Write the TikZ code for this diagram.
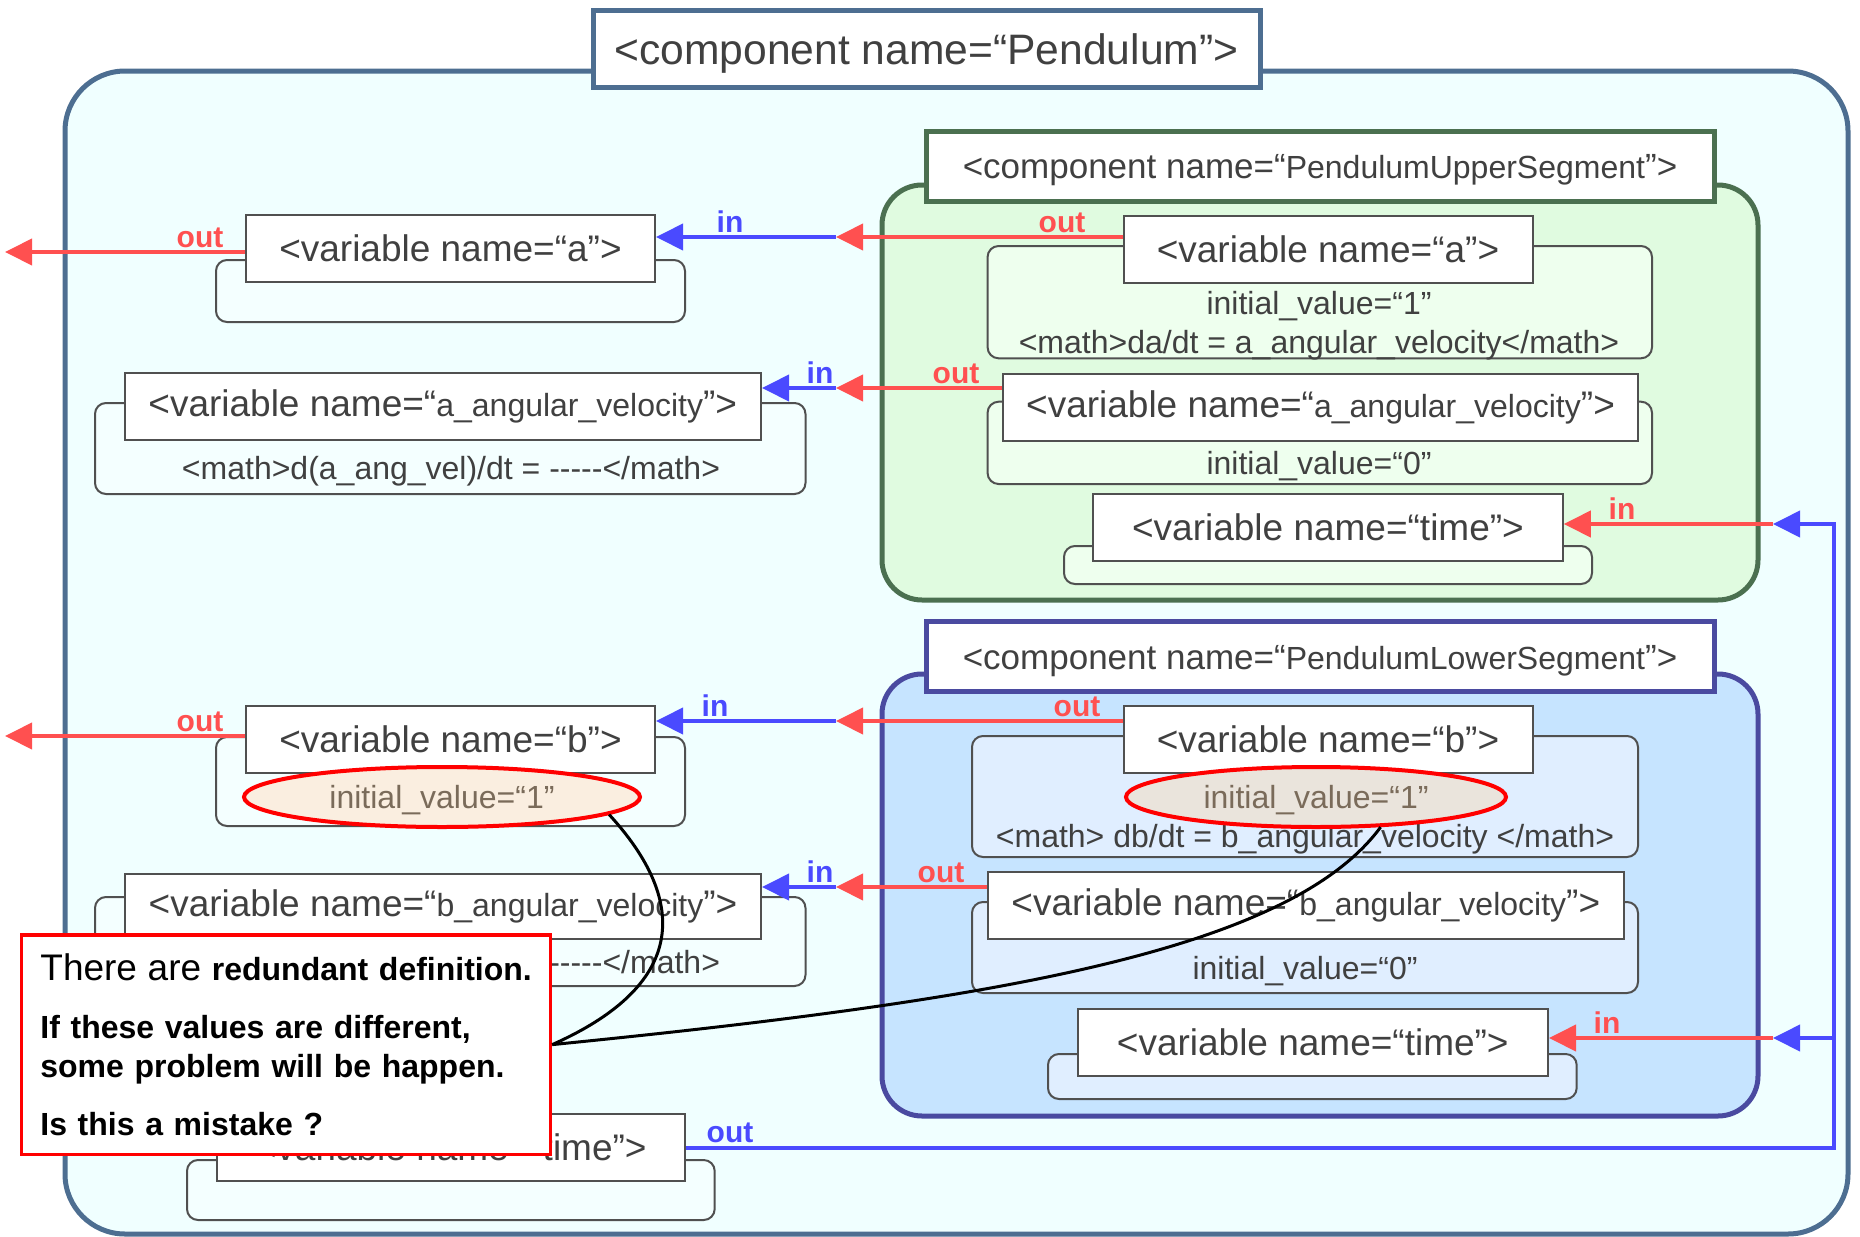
\documentclass[tikz,border=0pt]{standalone}
\usepackage{fontspec}
\setmainfont{Liberation Sans}
\usepackage{tikz}
\usetikzlibrary{arrows.meta}
\usetikzlibrary{positioning}
\usetikzlibrary{shapes.geometric}

\definecolor{outerline}{RGB}{77,110,145}
\definecolor{outerfill}{RGB}{240,255,255}
\definecolor{upperline}{RGB}{75,112,80}
\definecolor{upperfill}{RGB}{224,251,224}
\definecolor{upperback}{RGB}{238,255,238}
\definecolor{lowerline}{RGB}{74,74,160}
\definecolor{lowerfill}{RGB}{198,228,255}
\definecolor{lowerback}{RGB}{224,238,255}
\definecolor{leftback}{RGB}{244,255,255}
\definecolor{boxline}{RGB}{80,80,80}
\definecolor{boxtext}{RGB}{64,64,64}
\definecolor{outred}{RGB}{255,80,80}
\definecolor{inblue}{RGB}{74,74,255}
\definecolor{valtext}{RGB}{122,107,90}
\definecolor{dupleft}{RGB}{250,238,224}
\definecolor{dupright}{RGB}{234,228,220}

\newcommand{\vname}[1]{{\fontsize{16}{19}\selectfont #1}}
\newcommand{\dashrun}{-\kern0pt-\kern0pt-\kern0pt-\kern0pt-}

\begin{document}
\begin{tikzpicture}[x=0.5pt, y=-0.5pt,
    var/.style={draw=boxline, line width=1pt, fill=white, text=boxtext, font=\fontsize{18.5}{22}\selectfont, minimum height=33.5pt, inner sep=0pt},
    back/.style={draw=boxline, line width=1pt, rounded corners=5.5pt},
    comp/.style={line width=2.5pt, rounded corners=20pt},
    ctitle/.style={line width=2.5pt, fill=white, text=boxtext, font=\fontsize{17.5}{21}\selectfont, inner sep=0pt, minimum width=394pt, minimum height=35pt, text height=12.6pt, text depth=0pt},
    subtext/.style={text=boxtext, font=\fontsize{16}{19}\selectfont, inner sep=0pt},
    dup/.style={ellipse, draw=red, line width=2pt, text=valtext, font=\fontsize{16}{19}\selectfont, inner sep=0pt, minimum height=30pt, text depth=0pt},
    redarrow/.style={draw=outred, line width=2pt, -{Triangle[length=13.5pt, width=13pt]}},
    bluearrow/.style={draw=inblue, line width=2pt, -{Triangle[length=13.5pt, width=13pt]}},
    redlabel/.style={text=outred, font=\fontsize{15}{18}\selectfont\bfseries, inner sep=0pt, anchor=base},
    bluelabel/.style={text=inblue, font=\fontsize{15}{18}\selectfont\bfseries, inner sep=0pt, anchor=base},
    remark/.style={draw=black, line width=1.5pt}
]
\useasboundingbox (0,0) rectangle (1860,1237);

\draw[line width=2.5pt, draw=outerline, fill=outerfill, rounded corners=30pt] (65,71) rectangle (1848,1234);
\draw[comp, draw=upperline, fill=upperfill] (882,185) rectangle (1758,600);
\draw[comp, draw=lowerline, fill=lowerfill] (882,674) rectangle (1758,1116);

\draw
    (926.5,48.5) node [ctitle, draw=outerline, minimum width=333.5pt, minimum height=38.5pt, font=\fontsize{21.3}{25}\selectfont, text height=16pt, name=pendulum] {<component name=“Pendulum”>}
    (1320,166) node [ctitle, draw=upperline, name=upper] {<component name=“\vname{PendulumUpperSegment}”>}
    (1320,656.5) node [ctitle, draw=lowerline, name=lower] {<component name=“\vname{PendulumLowerSegment}”>}
;

%% Boxes
\draw[back, fill=leftback] (216,260) rectangle (685,322);
\draw[back, fill=leftback] (95,403) rectangle (805.5,494);
\draw[back, fill=leftback] (216,737) rectangle (685,826);
\draw[back, fill=leftback] (95,897) rectangle (805.5,986);
\draw[back, fill=leftback] (187,1160) rectangle (714.7,1220);
\draw[back, fill=upperback] (987.6,246) rectangle (1652,358.3);
\draw[back, fill=upperback] (987.6,401.7) rectangle (1652,484);
\draw[back, fill=upperback] (1064,546) rectangle (1592,584);
\draw[back, fill=lowerback] (972,736) rectangle (1638,857);
\draw[back, fill=lowerback] (972,902) rectangle (1638,993);
\draw[back, fill=lowerback] (1048,1054) rectangle (1576.7,1099);

\draw
    (450.5,248.5) node [var, minimum width=204.5pt, name=vaL] {<variable name=“a”>}
    (442.75,406.5) node [var, minimum width=318.25pt, name=vavL] {<variable name=“\vname{a\_angular\_velocity}”>}
    (451,471) node [subtext, name=mathavL] {<math>d(a\_ang\_vel)/dt = \dashrun</math>}
    (450.5,739.5) node [var, minimum width=204.5pt, name=vbL] {<variable name=“b”>}
    (443,906) node [var, minimum width=318pt, minimum height=32.5pt, name=vbvL] {<variable name=“\vname{b\_angular\_velocity}”>}
    (451,965) node [subtext, name=mathbvL] {<math>d(b\_ang\_vel)/dt = \dashrun</math>}
    (450.75,1147.5) node [var, minimum width=234.25pt, name=vtL] {<variable name=“time”>}

    (1328,249) node [var, minimum width=204.5pt, name=vaU] {<variable name=“a”>}
    (1319,306) node [subtext, name=initaU] {initial\_value=“1”}
    (1319,345) node [subtext, name=mathaU] {<math>da/dt = a\_angular\_velocity</math>}
    (1320.5,407) node [var, minimum width=317.5pt, name=vavU] {<variable name=“\vname{a\_angular\_velocity}”>}
    (1319,466) node [subtext, name=initavU] {initial\_value=“0”}
    (1328,527.5) node [var, minimum width=234.75pt, name=vtU] {<variable name=“time”>}

    (1328,739) node [var, minimum width=204.5pt, name=vbU] {<variable name=“b”>}
    (1305,839) node [subtext, name=mathbU] {<math> db/dt = b\_angular\_velocity </math>}
    (1305.8,905.5) node [var, minimum width=318.2pt, name=vbvU] {<variable name=“\vname{b\_angular\_velocity}”>}
    (1305,971) node [subtext, name=initbvU] {initial\_value=“0”}
    (1312.8,1042) node [var, minimum width=235.2pt, name=vtLo] {<variable name=“time”>}
;

\draw
    (442,797) node [dup, fill=dupleft, minimum width=198pt, name=ivL] {initial\_value=“1”}
    (1316,797) node [dup, fill=dupright, minimum width=190pt, name=ivU] {initial\_value=“1”}
;

\coordinate (tipa) at (5,252);
\coordinate (tipb) at (5,736);
\coordinate (ja) at (836,237);
\coordinate (jav) at (836,388);
\coordinate (jb) at (836,721);
\coordinate (jbv) at (836,887);
\coordinate (jtu) at (1773,524);
\coordinate (jtl) at (1773,1038);
\coordinate (bendu) at (1834,524);
\coordinate (bendl) at (1834,1038);
\coordinate (bend) at (1834,1147.5);

\draw[redarrow] (vaL.west |- tipa) -- (tipa);
\draw[redarrow] (vbL.west |- tipb) -- (tipb);
\draw[redarrow] (vaU.west |- ja) -- (ja);
\draw[bluearrow] (ja) -- (ja -| vaL.east);
\draw[redarrow] (vavU.west |- jav) -- (jav);
\draw[bluearrow] (jav) -- (jav -| vavL.east);
\draw[redarrow] (vbU.west |- jb) -- (jb);
\draw[bluearrow] (jb) -- (jb -| vbL.east);
\draw[redarrow] (vbvU.west |- jbv) -- (jbv);
\draw[bluearrow] (jbv) -- (jbv -| vbvL.east);
\draw[redarrow] (jtu) -- (jtu -| vtU.east);
\draw[redarrow] (jtl) -- (jtl -| vtLo.east);
\draw[bluearrow] (vtL.east) -- (bend) -- (bendu) -- (jtu);
\draw[bluearrow] (bendl) -- (jtl);

\draw
    (200,247) node [redlabel, name=outaL] {out}
    (730,232) node [bluelabel, name=inaL] {in}
    (1062,232) node [redlabel, name=outaU] {out}
    (820,383) node [bluelabel, name=inavL] {in}
    (956,383) node [redlabel, name=outavU] {out}
    (1622,519) node [redlabel, name=intU] {in}
    (200,731) node [redlabel, name=outbL] {out}
    (715,716) node [bluelabel, name=inbL] {in}
    (1077,716) node [redlabel, name=outbU] {out}
    (820,882) node [bluelabel, name=inbvL] {in}
    (941,882) node [redlabel, name=outbvU] {out}
    (1607,1033) node [redlabel, name=intLo] {in}
    (730,1142) node [bluelabel, name=outtL] {out}
;

\draw (19.6,933) node [anchor=north west, draw=red, line width=1.8pt, fill=white, inner xsep=9.5pt, inner ysep=9.5pt, text width=245.5pt, align=left, minimum width=264.5pt, font=\fontsize{16}{19.5}\selectfont\bfseries, name=note]
    {\mbox{{\mdseries\fontsize{18.5}{19.5}\selectfont There are} redundant definition.}\\[9.25pt]
     If these values are different,\\
     some problem will be happen.\\[9.5pt]
     Is this a mistake ?};

\draw[remark] (note.east) .. controls (720,970) and (660,870) .. (ivL.-6);
\draw[remark] (note.east) .. controls (1000,1000) and (1290,950) .. (ivU.-25);

\end{tikzpicture}
\end{document}
